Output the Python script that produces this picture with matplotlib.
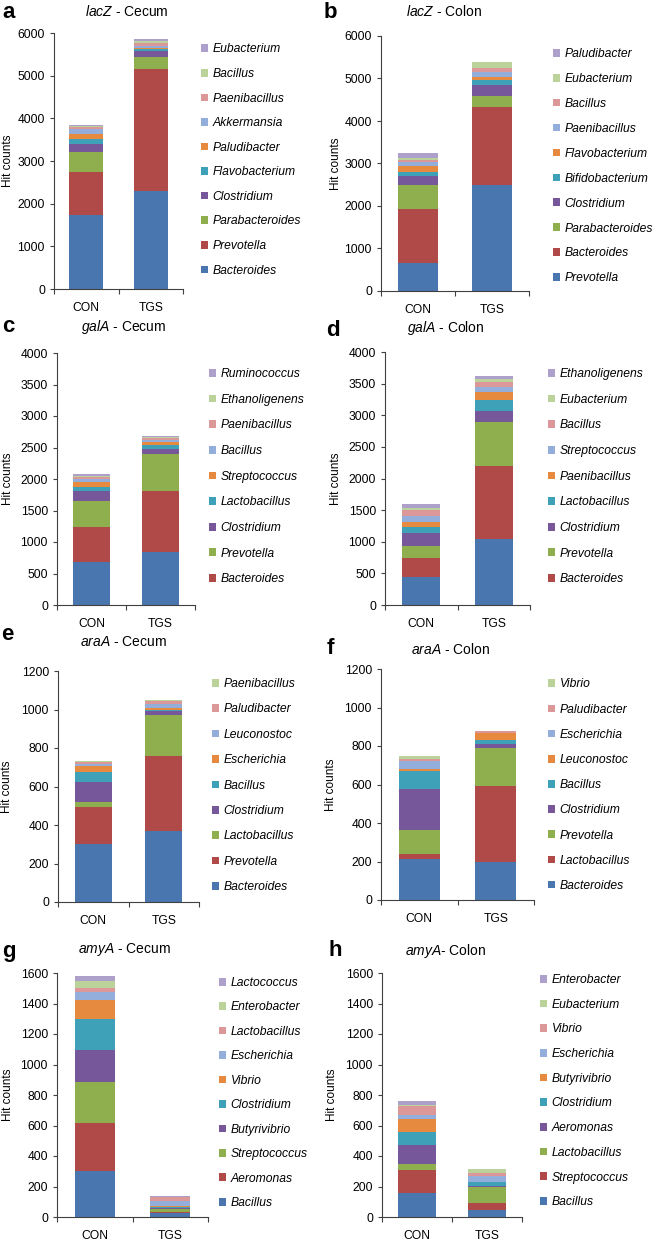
import matplotlib
matplotlib.use("Agg")
import matplotlib.pyplot as plt
import numpy as np

plt.rcParams['font.family'] = ['Liberation Sans', 'DejaVu Sans']
plt.rcParams['mathtext.fontset'] = 'custom'
plt.rcParams['mathtext.rm'] = 'Liberation Sans'
plt.rcParams['mathtext.it'] = 'Liberation Sans:italic'

groups = ['CON', 'TGS']

# panel a: lacZ - Cecum (bottom -> top)
lacz_cecum_genus = ['Bacteroides', 'Prevotella', 'Parabacteroides', 'Clostridium', 'Flavobacterium',
                    'Paludibacter', 'Akkermansia', 'Paenibacillus', 'Bacillus', 'Eubacterium']
lacz_cecum_con = [1740, 1010, 470, 180, 110, 125, 110, 50, 30, 30]
lacz_cecum_tgs = [2300, 2850, 295, 130, 47, 23, 47, 62, 47, 55]

# panel b: lacZ - Colon
lacz_colon_genus = ['Prevotella', 'Bacteroides', 'Parabacteroides', 'Clostridium', 'Bifidobacterium',
                    'Flavobacterium', 'Paenibacillus', 'Bacillus', 'Eubacterium', 'Paludibacter']
lacz_colon_con = [670, 1255, 580, 205, 95, 130, 110, 45, 50, 110]
lacz_colon_tgs = [2490, 1840, 260, 250, 120, 80, 120, 80, 140, 10]

# panel c: galA - Cecum (first series has no legend entry)
gala_cecum_genus = [None, 'Bacteroides', 'Prevotella', 'Clostridium', 'Lactobacillus', 'Streptococcus',
                    'Bacillus', 'Paenibacillus', 'Ethanoligenens', 'Ruminococcus']
gala_cecum_con = [680, 560, 410, 160, 60, 75, 50, 30, 30, 25]
gala_cecum_tgs = [840, 975, 585, 80, 65, 40, 30, 35, 20, 15]

# panel d: galA - Colon
gala_colon_genus = [None, 'Bacteroides', 'Prevotella', 'Clostridium', 'Lactobacillus', 'Paenibacillus',
                    'Streptococcus', 'Bacillus', 'Eubacterium', 'Ethanoligenens']
gala_colon_con = [440, 310, 180, 215, 95, 75, 95, 90, 40, 50]
gala_colon_tgs = [1050, 1150, 700, 170, 175, 115, 85, 80, 50, 45]

# panel e: araA - Cecum
araa_cecum_genus = ['Bacteroides', 'Prevotella', 'Lactobacillus', 'Clostridium', 'Bacillus',
                    'Escherichia', 'Leuconostoc', 'Paludibacter', 'Paenibacillus']
araa_cecum_con = [300, 195, 22, 108, 50, 30, 10, 12, 8]
araa_cecum_tgs = [370, 387, 216, 17, 10, 7, 20, 16, 6]

# panel f: araA - Colon
araa_colon_genus = ['Bacteroides', 'Lactobacillus', 'Prevotella', 'Clostridium', 'Bacillus',
                    'Leuconostoc', 'Escherichia', 'Paludibacter', 'Vibrio']
araa_colon_con = [215, 25, 125, 210, 95, 12, 38, 10, 18]
araa_colon_tgs = [195, 395, 198, 22, 20, 40, 0, 7, 0]

# panel g: amyA - Cecum
amya_cecum_genus = ['Bacillus', 'Aeromonas', 'Streptococcus', 'Butyrivibrio', 'Clostridium',
                    'Vibrio', 'Escherichia', 'Lactobacillus', 'Enterobacter', 'Lactococcus']
amya_cecum_con = [300, 315, 270, 210, 205, 120, 55, 27, 43, 38]
amya_cecum_tgs = [26, 9, 15, 7, 11, 7, 33, 20, 4, 6]

# panel h: amyA - Colon
amya_colon_genus = ['Bacillus', 'Streptococcus', 'Lactobacillus', 'Aeromonas', 'Clostridium',
                    'Butyrivibrio', 'Escherichia', 'Vibrio', 'Eubacterium', 'Enterobacter']
amya_colon_con = [155, 150, 45, 120, 90, 80, 32, 55, 5, 28]
amya_colon_tgs = [48, 44, 105, 4, 26, 4, 39, 17, 26, 2]

colors = ['#4A76B0', '#B04A48', '#8FAE4E', '#76579A', '#3FA1B8',
          '#E58A3E', '#94AEDB', '#DC9898', '#BBD29A', '#ADA0CB']

W, H = 656, 1240
fig = plt.figure(figsize=(W / 100, H / 100), dpi=100)


def fx(px):
    return px / W


def fy(py):
    return 1 - py / H


panels = [
    # letter, title, genus, con, tgs, ymax, ystep, axes box (l, r, t, b) px,
    # legend (x, y) px, legend spacing, letter pos, title pos, ylabel x
    ('a', r'$\it{lacZ}$ - Cecum', lacz_cecum_genus, lacz_cecum_con, lacz_cecum_tgs, 6000, 1000,
     (54, 183, 33, 289), (201, 43.5), 1.04, (2, 13), (127, 12), 8),
    ('b', r'$\it{lacZ}$ - Colon', lacz_colon_genus, lacz_colon_con, lacz_colon_tgs, 6000, 1000,
     (381, 529, 36, 291), (553, 48), 1.07, (324, 13), (444, 12), 336),
    ('c', r'$\it{galA}$ - Cecum', gala_cecum_genus, gala_cecum_con, gala_cecum_tgs, 4000, 500,
     (57, 195, 353, 605), (209, 368), 1.13, (2, 326), (124, 327), 8),
    ('d', r'$\it{galA}$ - Colon', gala_colon_genus, gala_colon_con, gala_colon_tgs, 4000, 500,
     (385, 530, 352, 605), (548, 368), 1.13, (326, 330), (446, 328), 336),
    ('e', r'$\it{araA}$ - Cecum', araa_cecum_genus, araa_cecum_con, araa_cecum_tgs, 1200, 200,
     (58, 199, 671, 902), (212, 678), 1.11, (1, 635), (123, 642), 7),
    ('f', r'$\it{araA}$ - Colon', araa_colon_genus, araa_colon_con, araa_colon_tgs, 1200, 200,
     (381, 534, 669, 900), (548, 678.5), 1.09, (327, 649), (451, 650), 331),
    ('g', r'$\it{amyA}$ - Cecum', amya_cecum_genus, amya_cecum_con, amya_cecum_tgs, 1600, 200,
     (57, 208, 973, 1217), (219, 977), 1.03, (2, 951), (124, 950), 8),
    ('h', r'$\it{amyA}$- Colon', amya_colon_genus, amya_colon_con, amya_colon_tgs, 1600, 200,
     (382, 522, 973, 1217), (540, 974), 1.05, (328, 950), (446, 951), 332),
]

axis_col = '#404040'
fs = 8.7

for letter, title, genus, con, tgs, ymax, ystep, box, leg, lsp, lpos, tpos, ylx in panels:
    l, r, t, b = box
    ax = fig.add_axes([fx(l), fy(b), fx(r) - fx(l), fy(t) - fy(b)])
    x = np.array([0.5, 1.5])
    bottom = np.zeros(2)
    handles, labels = [], []
    for i, name in enumerate(genus):
        vals = np.array([con[i], tgs[i]], dtype=float)
        bars = ax.bar(x, vals, 0.53, bottom=bottom, color=colors[i], linewidth=0)
        bottom += vals
        if name is not None:
            handles.append(bars)
            labels.append(name)
    ax.set_xlim(0, 2)
    ax.set_ylim(0, ymax)
    ax.set_yticks(np.arange(0, ymax + 1, ystep))
    ax.set_xticks([0, 1, 2])
    ax.set_xticklabels([])
    ax.set_xticks(x, minor=True)
    ax.set_xticklabels(groups, minor=True)
    ax.tick_params(axis='x', which='minor', length=0, pad=9.5, labelsize=fs)
    ax.tick_params(axis='x', which='major', length=3.5, width=0.8, color=axis_col, direction='out')
    ax.tick_params(axis='y', length=3, width=0.8, color=axis_col, pad=3.5, labelsize=fs)
    for s in ['top', 'right']:
        ax.spines[s].set_visible(False)
    for s in ['left', 'bottom']:
        ax.spines[s].set_color(axis_col)
        ax.spines[s].set_linewidth(0.8)

    ax.legend(handles[::-1], labels[::-1], loc='upper left',
              bbox_to_anchor=(fx(leg[0]), fy(leg[1])), bbox_transform=fig.transFigure,
              frameon=False, borderpad=0, borderaxespad=0,
              prop={'style': 'italic', 'size': fs}, handlelength=0.6, handleheight=0.6,
              handletextpad=0.35, labelspacing=lsp)

    fig.text(fx(lpos[0]), fy(lpos[1]), letter, fontsize=16, fontweight='bold', ha='left', va='center')
    fig.text(fx(tpos[0]), fy(tpos[1]), title, fontsize=10, ha='center', va='center')
    fig.text(fx(ylx), fy((t + b) / 2), 'Hit counts', fontsize=8.5, rotation=90, ha='center', va='center')

fig.savefig('out.png', dpi=100)
